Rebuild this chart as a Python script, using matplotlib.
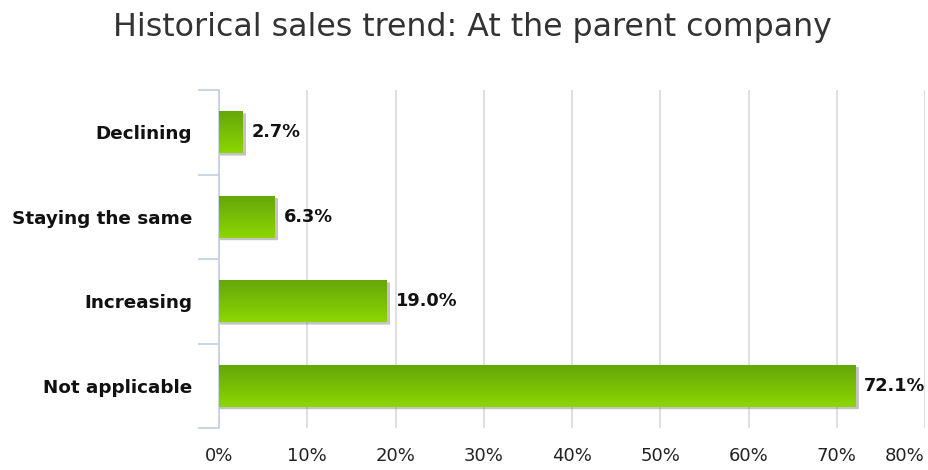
import numpy as np
import matplotlib
matplotlib.use("Agg")
import matplotlib.pyplot as plt
from matplotlib.patches import Rectangle
from matplotlib.colors import LinearSegmentedColormap

categories = ["Not applicable", "Increasing", "Staying the same", "Declining"]
values = [72.1, 19.0, 6.3, 2.7]
xticks = [0, 10, 20, 30, 40, 50, 60, 70, 80]
xtick_labels = ["0%", "10%", "20%", "30%", "40%", "50%", "60%", "70%", "80%"]

plt.rcParams['font.family'] = ['DejaVu Sans']

fig = plt.figure(figsize=(9.29, 4.70), dpi=100)
ax = fig.add_axes([219/929, 1-428/470, 706/929, 338/470])

green = LinearSegmentedColormap.from_list("g", ["#64a60a", "#8cd602"])
grad = np.linspace(0, 1, 64).reshape(-1, 1)
bar_h = 0.5

for i, v in enumerate(values):
    # soft shadow
    for k, a in enumerate([0.10, 0.18, 0.28]):
        off = 0.35 + k * 0.15
        sh = Rectangle((0, i - bar_h/2 - 0.035 + k*0.006), v + off - k*0.12, bar_h,
                       facecolor="#808080", edgecolor="none", alpha=a, zorder=2)
        ax.add_patch(sh)
    rect = Rectangle((0, i - bar_h/2), v, bar_h, facecolor="none",
                     edgecolor="none", zorder=3)
    ax.add_patch(rect)
    im = ax.imshow(grad, cmap=green, aspect="auto",
                   extent=(0, v, i - bar_h/2, i + bar_h/2),
                   origin="upper", zorder=3)
    im.set_clip_path(rect)
    ax.text(v + 1.0, i, f"{v:.1f}%", va="center", ha="left",
            fontsize=12.8, fontweight="bold", color="#111111", zorder=4)

ax.set_xlim(0, 80)
ax.set_ylim(-0.5, 3.5)
ax.set_xticks(xticks)
ax.set_xticklabels(xtick_labels, fontsize=13, color="#222222")
ax.get_xticklabels()[-1].set_horizontalalignment("right")
ax.tick_params(axis="x", length=0, pad=14)
ax.xaxis.grid(True, color="#d6d6d6", linewidth=1.1, zorder=0)
ax.set_axisbelow(True)

ax.set_yticks(range(len(categories)))
ax.set_yticklabels(categories, fontsize=13.2, fontweight="bold", color="#111111")
ax.tick_params(axis="y", length=0, pad=19.5)
ax.set_yticks([-0.5, 0.5, 1.5, 2.5, 3.5], minor=True)
ax.tick_params(axis="y", which="minor", length=15, color="#c0d0e0", width=1.2)

for s in ["top", "right", "bottom"]:
    ax.spines[s].set_visible(False)
ax.spines["left"].set_color("#c0d0e0")
ax.spines["left"].set_linewidth(1.2)

fig.text(472.5/929, 1 - 36/470, "Historical sales trend: At the parent company",
         ha="center", va="baseline", fontsize=22.8, color="#333333")

fig.savefig("out.png", dpi=100)
